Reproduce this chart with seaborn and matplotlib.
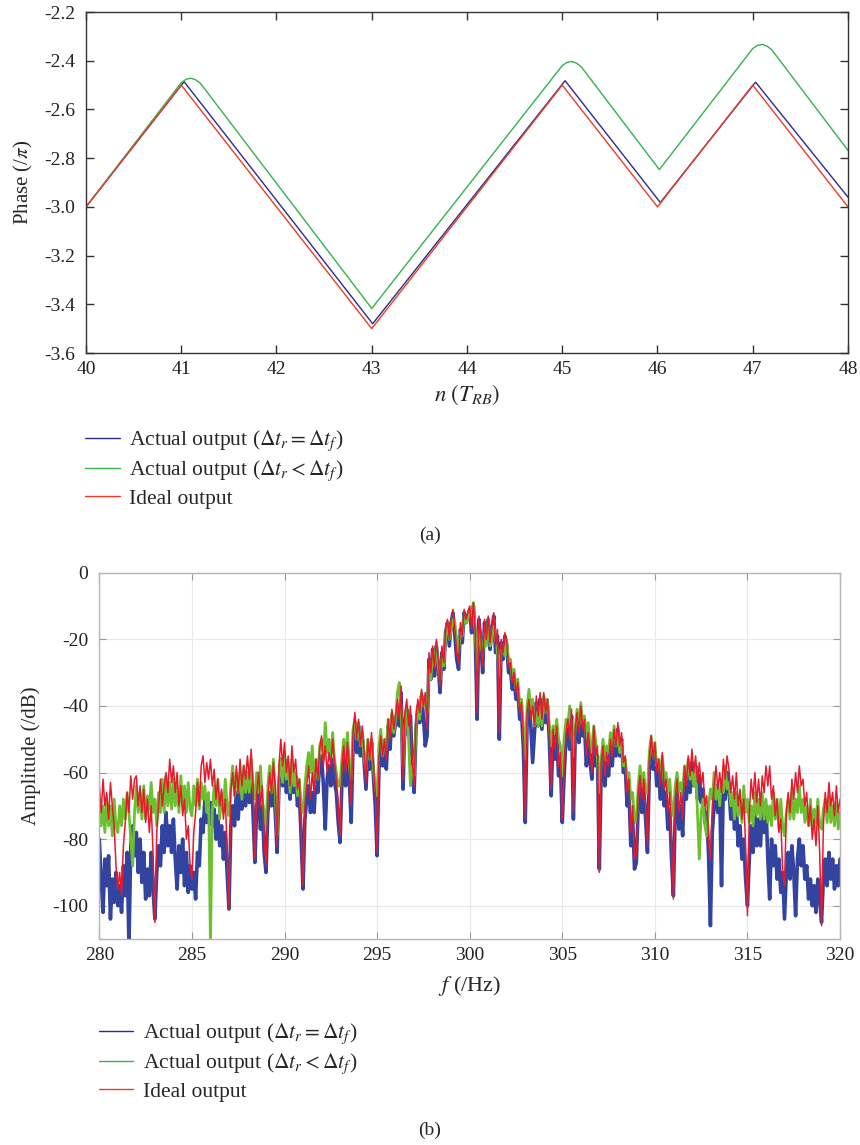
import numpy as np
import matplotlib
matplotlib.use("Agg")
import matplotlib.pyplot as plt
from matplotlib.lines import Line2D
import seaborn as sns

# ---- (a) phase vs n ----
n_ideal = [40, 41, 43, 45, 46, 47, 48]
phase_ideal = [-3.0, -2.5, -3.5, -2.5, -3.0, -2.5, -3.0]

n_equal = [40, 41.03, 43.01, 45.03, 46.03, 47.03, 48]
phase_equal = [-3.0, -2.486, -3.48, -2.482, -2.982, -2.488, -2.96]

n_unequal = [40, 41.0, 41.05, 41.1, 41.15, 41.2, 43.0, 45.0, 45.05, 45.1, 45.15, 45.2,
             46.02, 47.0, 47.05, 47.1, 47.15, 47.2, 48]
phase_unequal = [-3.0, -2.49, -2.476, -2.472, -2.478, -2.492, -3.417, -2.42, -2.407, -2.403,
                 -2.41, -2.425, -2.847, -2.35, -2.337, -2.333, -2.34, -2.355, -2.768]

# ---- (b) spectrum, 280..320 Hz every 0.1 Hz (one row per Hz) ----
freq = np.round(np.arange(280, 320.001, 0.1), 1)

amp_ideal = [
    -64, -72, -62, -70, -66, -74, -63, -70, -76, -88,
    -95, -90, -97, -82, -75, -66, -72, -61, -68, -62,
    -61, -70, -64, -72, -65, -75, -68, -78, -70, -84,
    -105, -78, -70, -62, -70, -64, -60, -66, -56, -63,
    -58, -66, -60, -70, -64, -73, -68, -80, -76, -88,
    -92, -78, -72, -63, -70, -58, -55, -63, -57, -62,
    -56, -64, -59, -68, -62, -70, -65, -74, -68, -82,
    -101, -66, -60, -67, -58, -66, -56, -64, -58, -62,
    -55, -62, -53, -64, -86, -66, -60, -70, -64, -80,
    -88, -68, -60, -66, -57, -64, -82, -58, -50, -58,
    -51, -60, -55, -64, -52, -60, -56, -65, -62, -76,
    -94, -70, -64, -58, -68, -60, -66, -56, -62, -53,
    -49, -58, -52, -60, -54, -58, -50, -57, -62, -70,
    -79, -58, -52, -60, -51, -58, -70, -48, -42, -50,
    -44, -52, -46, -54, -63, -50, -56, -48, -58, -66,
    -84, -56, -49, -55, -50, -56, -44, -50, -41, -47,
    -43, -38, -44, -34, -62, -42, -38, -46, -40, -56,
    -64, -44, -38, -42, -35, -40, -36, -47, -24, -30,
    -22, -29, -20, -26, -34, -22, -27, -17, -14, -20,
    -14, -11, -17, -24, -27, -15, -19, -11, -14, -12,
    -10, -17, -9, -18, -42, -13, -19, -28, -14, -20,
    -13, -21, -16, -12, -22, -17, -48, -20, -24, -18,
    -21, -28, -27, -33, -30, -36, -33, -42, -39, -50,
    -74, -42, -38, -44, -40, -46, -37, -43, -36, -44,
    -36, -42, -38, -48, -65, -47, -53, -46, -58, -54,
    -74, -58, -48, -44, -50, -41, -72, -47, -42, -48,
    -40, -47, -44, -55, -48, -54, -60, -46, -55, -52,
    -90, -57, -52, -61, -54, -58, -50, -55, -47, -52,
    -45, -52, -48, -57, -55, -66, -62, -78, -70, -86,
    -84, -66, -61, -68, -62, -70, -82, -56, -49, -56,
    -51, -60, -56, -64, -54, -65, -62, -72, -66, -82,
    -98, -68, -62, -72, -66, -74, -58, -64, -55, -61,
    -53, -60, -55, -63, -57, -64, -60, -70, -67, -80,
    -86, -70, -64, -58, -65, -60, -66, -56, -62, -55,
    -59, -66, -61, -68, -60, -70, -65, -74, -68, -82,
    -103, -72, -62, -68, -60, -69, -62, -70, -61, -66,
    -58, -64, -58, -68, -64, -73, -68, -78, -74, -90,
    -94, -72, -66, -72, -62, -68, -60, -66, -58, -64,
    -62, -70, -66, -76, -70, -80, -74, -82, -70, -84,
    -106, -76, -66, -72, -63, -70, -66, -73, -64, -72,
    -68,
]

amp_equal = [
    -80, -92, -102, -86, -94, -85, -104, -92, -99, -90,
    -100, -94, -102, -88, -97, -84, -112, -82, -76, -85,
    -78, -90, -80, -93, -84, -98, -89, -97, -84, -95,
    -104, -90, -82, -88, -76, -84, -72, -82, -76, -84,
    -74, -86, -95, -82, -90, -80, -94, -84, -96, -88,
    -95, -90, -98, -84, -88, -74, -78, -68, -75, -70,
    -69, -76, -71, -80, -73, -82, -76, -86, -78, -90,
    -101, -76, -70, -76, -66, -74, -63, -71, -62, -70,
    -62, -69, -60, -72, -87, -70, -66, -77, -70, -84,
    -90, -72, -66, -70, -62, -72, -84, -64, -56, -64,
    -56, -66, -60, -68, -58, -66, -61, -70, -66, -80,
    -95, -74, -68, -64, -72, -66, -72, -60, -66, -57,
    -55, -64, -77, -62, -58, -64, -56, -63, -66, -75,
    -81, -63, -56, -64, -55, -62, -75, -52, -45, -54,
    -46, -55, -49, -57, -65, -53, -59, -51, -61, -70,
    -85, -59, -52, -58, -53, -59, -46, -53, -43, -49,
    -45, -41, -46, -36, -65, -45, -41, -49, -43, -58,
    -66, -47, -40, -45, -37, -43, -52, -49, -26, -32,
    -23, -31, -22, -28, -36, -24, -29, -18, -15, -22,
    -15, -12, -19, -26, -29, -17, -21, -12, -15, -13,
    -11, -18, -10, -19, -44, -14, -21, -30, -15, -21,
    -14, -23, -17, -13, -24, -19, -50, -21, -26, -19,
    -22, -30, -29, -35, -32, -38, -35, -44, -42, -53,
    -75, -45, -40, -46, -57, -48, -39, -46, -38, -47,
    -38, -45, -40, -50, -67, -49, -56, -48, -61, -57,
    -75, -61, -50, -47, -53, -43, -74, -49, -44, -51,
    -42, -49, -46, -58, -51, -57, -62, -48, -58, -55,
    -89, -60, -55, -64, -57, -61, -52, -58, -49, -55,
    -47, -55, -50, -60, -58, -70, -65, -82, -74, -89,
    -87, -70, -64, -72, -65, -74, -84, -59, -52, -59,
    -54, -64, -59, -68, -57, -70, -66, -77, -71, -86,
    -97, -72, -66, -77, -70, -79, -62, -68, -59, -66,
    -57, -64, -58, -68, -61, -69, -65, -75, -72, -85,
    -106, -78, -70, -64, -72, -66, -94, -63, -68, -60,
    -64, -74, -68, -77, -70, -82, -76, -86, -80, -92,
    -100, -86, -76, -84, -72, -82, -74, -82, -72, -78,
    -70, -86, -98, -80, -88, -82, -92, -86, -96, -90,
    -104, -90, -84, -92, -82, -90, -103, -86, -80, -88,
    -82, -92, -88, -98, -92, -100, -94, -102, -92, -98,
    -105, -92, -86, -94, -84, -92, -86, -95, -88, -94,
    -86,
]

amp_unequal = [
    -68, -76, -70, -78, -68, -76, -70, -79, -68, -76,
    -78, -70, -76, -68, -74, -66, -72, -80, -88, -72,
    -64, -72, -66, -74, -64, -74, -67, -71, -63, -72,
    -68, -76, -66, -72, -62, -72, -61, -70, -63, -71,
    -62, -70, -64, -72, -61, -70, -64, -72, -63, -71,
    -73, -64, -70, -62, -71, -63, -68, -64, -72, -66,
    -112, -72, -64, -70, -62, -74, -66, -72, -62, -70,
    -73, -64, -58, -67, -60, -66, -60, -68, -58, -66,
    -60, -66, -56, -64, -68, -60, -66, -58, -68, -72,
    -76, -64, -58, -66, -56, -66, -79, -62, -56, -63,
    -54, -62, -57, -66, -56, -64, -60, -67, -62, -70,
    -72, -64, -58, -54, -60, -52, -64, -56, -62, -52,
    -50, -56, -45, -54, -50, -56, -48, -56, -60, -64,
    -64, -56, -50, -56, -48, -58, -62, -47, -44, -50,
    -45, -52, -48, -56, -59, -50, -56, -50, -59, -64,
    -67, -52, -47, -55, -50, -53, -44, -48, -42, -48,
    -44, -36, -33, -42, -58, -46, -40, -50, -64, -58,
    -61, -46, -40, -44, -36, -40, -38, -42, -29, -32,
    -24, -28, -21, -28, -32, -26, -28, -19, -15, -20,
    -17, -14, -15, -20, -24, -18, -19, -13, -15, -14,
    -11, -13, -9, -18, -29, -17, -21, -25, -18, -22,
    -14, -22, -20, -16, -19, -24, -31, -23, -22, -25,
    -20, -27, -26, -32, -29, -35, -32, -40, -38, -46,
    -56, -40, -35, -41, -38, -46, -42, -46, -40, -46,
    -37, -42, -38, -46, -52, -46, -48, -44, -50, -52,
    -61, -50, -44, -46, -40, -48, -55, -46, -41, -46,
    -39, -45, -43, -50, -45, -52, -54, -46, -50, -56,
    -66, -56, -50, -56, -52, -54, -48, -52, -46, -52,
    -48, -54, -51, -58, -56, -62, -60, -68, -66, -74,
    -75, -64, -58, -64, -60, -66, -66, -54, -49, -55,
    -51, -58, -56, -60, -55, -63, -60, -66, -62, -70,
    -73, -64, -60, -66, -63, -66, -58, -62, -56, -62,
    -60, -64, -58, -72, -86, -72, -68, -76, -79, -70,
    -65, -68, -60, -68, -64, -70, -62, -66, -58, -65,
    -63, -70, -66, -74, -66, -73, -68, -75, -64, -72,
    -68, -75, -70, -76, -66, -73, -68, -74, -66, -74,
    -68, -75, -70, -76, -66, -74, -68, -77, -68, -76,
    -79, -72, -68, -74, -66, -74, -68, -72, -64, -72,
    -68, -75, -70, -76, -68, -77, -71, -75, -68, -76,
    -77, -71, -68, -75, -67, -75, -70, -76, -69, -77,
    -72,
]

label_equal = r'Actual output ($\Delta t_r = \Delta t_f$)'
label_unequal = r'Actual output ($\Delta t_r < \Delta t_f$)'
label_ideal = 'Ideal output'

sns.set_style("ticks")
plt.rcParams['font.family'] = ['Liberation Serif', 'DejaVu Serif']
plt.rcParams['mathtext.fontset'] = 'stix'
plt.rcParams['axes.unicode_minus'] = False

fig = plt.figure(figsize=(8.6, 11.45), dpi=100)

# ---------- top panel ----------
ax1 = fig.add_axes([0.1, 0.6917, 0.886, 0.2978])
c_blue_a, c_green_a, c_red_a = '#2b2b8f', '#35b24a', '#ef3b24'
sns.lineplot(x=n_equal, y=phase_equal, ax=ax1, color=c_blue_a, linewidth=1.0, sort=False)
sns.lineplot(x=n_unequal, y=phase_unequal, ax=ax1, color=c_green_a, linewidth=1.0, sort=False)
sns.lineplot(x=n_ideal, y=phase_ideal, ax=ax1, color=c_red_a, linewidth=1.0, sort=False)
ax1.set_xlim(40, 48)
ax1.set_ylim(-3.6, -2.2)
ax1.set_xticks(range(40, 49))
yt = np.arange(-3.6, -2.19, 0.2)
ax1.set_yticks(yt)
ax1.set_yticklabels([f'{v:.1f}' for v in yt])
ax1.tick_params(direction='in', top=True, right=True, length=6, width=1, labelsize=14,
                colors='#333333', labelcolor='#222222')
ax1.tick_params(axis='y', pad=8)
ax1.tick_params(axis='x', pad=6)
for s in ax1.spines.values():
    s.set_color('#333333')
    s.set_linewidth(1.0)
ax1.set_xlabel(r'$n\ (T_{RB})$', fontsize=16.5, labelpad=3)
ax1.set_ylabel(r'Phase (/$\pi$)', fontsize=15, labelpad=6)

h_a = [Line2D([], [], color=c_blue_a, lw=1.0),
       Line2D([], [], color=c_green_a, lw=1.0),
       Line2D([], [], color=c_red_a, lw=1.0)]
ax1.legend(h_a, [label_equal, label_unequal, label_ideal], loc='upper left',
           bbox_to_anchor=(0.089, 0.633), bbox_transform=fig.transFigure,
           frameon=False, fontsize=15.5, handlelength=1.6, handletextpad=0.45,
           labelspacing=0.25, borderaxespad=0)
fig.text(0.5, 1 - 535 / 1145, '(a)', ha='center', va='center', fontsize=14)

# ---------- bottom panel ----------
ax2 = fig.add_axes([0.1155, 0.1799, 0.8613, 0.3199])
c_blue_b, c_green_b, c_red_b = '#3344a0', '#6cbf2e', '#e8192c'
sns.lineplot(x=freq, y=amp_equal, ax=ax2, color=c_blue_b, linewidth=2.6)
sns.lineplot(x=freq, y=amp_unequal, ax=ax2, color=c_green_b, linewidth=2.0)
sns.lineplot(x=freq, y=amp_ideal, ax=ax2, color=c_red_b, linewidth=1.1)
ax2.set_xlim(280, 320)
ax2.set_ylim(-110, 0)
ax2.set_xticks(range(280, 321, 5))
ax2.set_yticks(range(-100, 1, 20))
ax2.grid(True, color='#e8e8e8', linewidth=0.8)
ax2.set_axisbelow(True)
ax2.tick_params(direction='in', top=True, right=True, length=5, width=0.8, labelsize=14,
                colors='#999999', labelcolor='#222222')
ax2.tick_params(axis='y', pad=8)
ax2.tick_params(axis='x', pad=6)
for s in ax2.spines.values():
    s.set_color('#b5b5b5')
    s.set_linewidth(1.0)
ax2.set_xlabel(r'$f$ (/Hz)', fontsize=16, labelpad=7)
ax2.set_ylabel('Amplitude (/dB)', fontsize=15, labelpad=8)

h_b = [Line2D([], [], color='#2b2b8f', lw=1.0),
       Line2D([], [], color='#35b24a', lw=1.0),
       Line2D([], [], color='#ef3b24', lw=1.0)]
ax2.legend(h_b, [label_equal, label_unequal, label_ideal], loc='upper left',
           bbox_to_anchor=(0.105, 0.115), bbox_transform=fig.transFigure,
           frameon=False, fontsize=15.5, handlelength=1.6, handletextpad=0.45,
           labelspacing=0.25, borderaxespad=0)
fig.text(0.5, 1 - 1130 / 1145, '(b)', ha='center', va='center', fontsize=14)

fig.savefig('out.png', dpi=100)
plt.close(fig)
